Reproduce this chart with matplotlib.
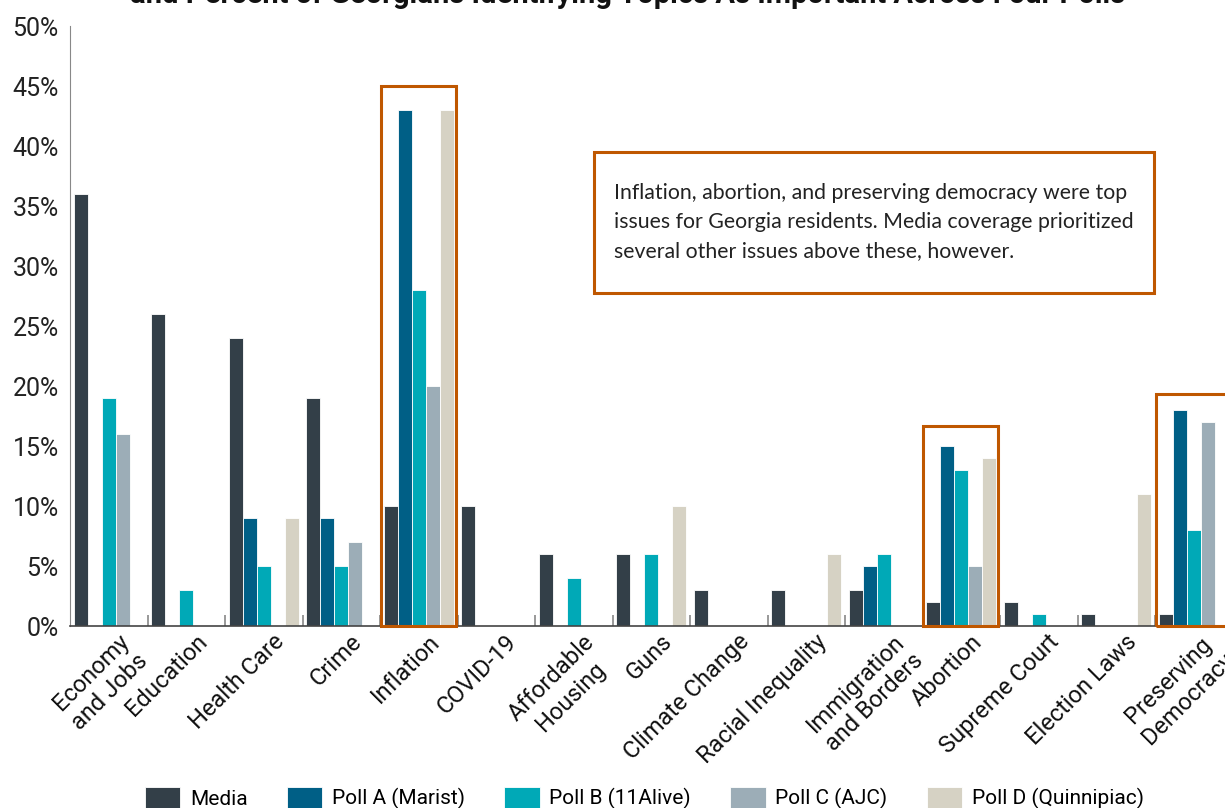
import matplotlib
matplotlib.use('Agg')
import matplotlib.pyplot as plt
import matplotlib.transforms as mtransforms
from matplotlib.patches import Rectangle
import numpy as np

plt.rcParams['font.family'] = ['Roboto', 'DejaVu Sans']

topics = ['Economy\nand Jobs', 'Education', 'Health Care', 'Crime', 'Inflation', 'COVID-19',
          'Affordable\nHousing', 'Guns', 'Climate Change', 'Racial Inequality',
          'Immigration\nand Borders', 'Abortion', 'Supreme Court', 'Election Laws',
          'Preserving\nDemocracy']
media = [36, 26, 24, 19, 10, 10, 6, 6, 3, 3, 3, 2, 2, 1, 1]
poll_a = [0, 0, 9, 9, 43, 0, 0, 0, 0, 0, 5, 15, 0, 0, 18]
poll_b = [19, 3, 5, 5, 28, 0, 4, 6, 0, 0, 6, 13, 1, 0, 8]
poll_c = [16, 0, 0, 7, 20, 0, 0, 0, 0, 0, 0, 5, 0, 0, 17]
poll_d = [0, 0, 9, 0, 43, 0, 0, 10, 0, 6, 0, 14, 0, 11, 0]
series_names = ['Media', 'Poll A (Marist)', 'Poll B (11Alive)', 'Poll C (AJC)', 'Poll D (Quinnipiac)']
colors = ['#333f48', '#005f86', '#00a9b7', '#9cadb7', '#d6d2c4']

# highlighted topics: (index, box top in %)
highlights = [(4, 45.0), (11, 16.7), (14, 19.3)]

note = ('Inflation, abortion, and preserving democracy were top\n'
        'issues for Georgia residents. Media coverage prioritized\n'
        'several other issues above these, however.')

fig = plt.figure(figsize=(12.25, 8.08), dpi=100)
ax = fig.add_axes([70 / 1225, 182 / 808, 1 - 70 / 1225, 600 / 808])

x = np.arange(len(topics))
w = 0.18
for k, (vals, name, c) in enumerate(zip([media, poll_a, poll_b, poll_c, poll_d], series_names, colors)):
    ax.bar(x + (k - 2) * w, vals, width=w, color=c, label=name,
           edgecolor='white', linewidth=0.6)

ax.set_xlim(-0.5, -0.5 + 1155 / 77.5)
ax.set_ylim(0, 50)
ax.set_yticks(range(0, 51, 5))
ax.set_yticklabels([f'{v}%' for v in range(0, 51, 5)], fontsize=18, color='#222222')
ax.tick_params(axis='y', length=0, pad=8)

ax.set_xticks(x)
ax.set_xticklabels(topics, fontsize=17, rotation=45, ha='right', va='top',
                   rotation_mode='anchor', ma='center', color='#111111', linespacing=1.2)
ax.tick_params(axis='x', length=0, pad=3)
offset = mtransforms.ScaledTranslation(0.09, 0, fig.dpi_scale_trans)
for lab in ax.get_xticklabels():
    lab.set_transform(lab.get_transform() + offset)

ax.set_xticks(x[:-1] + 0.5, minor=True)
ax.tick_params(axis='x', which='minor', direction='in', length=8, width=1.2, color='#888888')

for s in ['top', 'right']:
    ax.spines[s].set_visible(False)
ax.spines['left'].set_color('#888888')
ax.spines['bottom'].set_color('#444444')
ax.spines['bottom'].set_linewidth(1.2)

for idx, top in highlights:
    ax.add_patch(Rectangle((idx - 0.49, 0), 0.97, top, fill=False, edgecolor='#bf5700',
                           linewidth=2.2, clip_on=False, zorder=5))

ax.add_patch(Rectangle((6.26, 27.75), 7.23, 11.75, fill=False, edgecolor='#bf5700',
                       linewidth=2.2, zorder=5))
ax.text(6.52, 36.9, note, fontsize=15.3, va='top', ha='left', color='#222222',
        linespacing=1.55, family=['Lato', 'DejaVu Sans'])

fig.text(0.512, 1 - 3 / 808, 'and Percent of Georgians Identifying Topics As Important Across Four Polls',
         ha='center', va='baseline', fontsize=21, fontweight='bold', color='#111111')

fig.legend(loc='center', bbox_to_anchor=(0.526, 0.012), ncol=5, frameon=False, fontsize=15,
           handlelength=1.7, handleheight=1.15, handletextpad=0.45, columnspacing=1.9)

fig.savefig('out.png', dpi=100)
